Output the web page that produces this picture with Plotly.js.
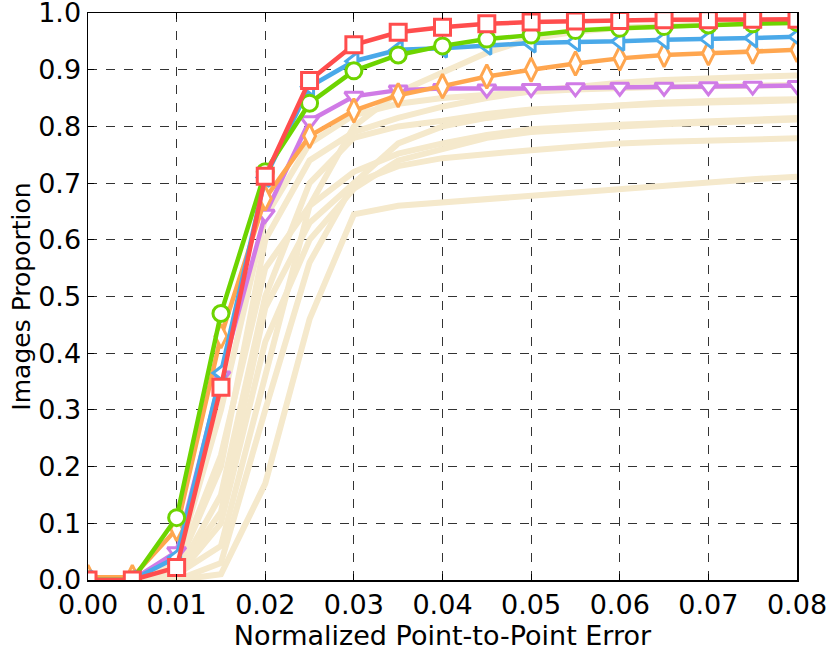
<!DOCTYPE html>
<html>
<head>
<meta charset="utf-8">
<script src="https://cdn.plot.ly/plotly-3.0.1.min.js"></script>
<style>html,body{margin:0;padding:0;background:#fff;}#chart{width:830px;height:651px;}</style>
</head>
<body>
<div id="chart"></div>
<script>
// x positions (normalized point-to-point error)
const errX = [0, 0.005, 0.01, 0.015, 0.02, 0.025, 0.03, 0.035, 0.04, 0.045, 0.05, 0.055, 0.06, 0.065, 0.07, 0.075, 0.08];

// background (other methods) curves
const bg1 = [0, 0, 0.01, 0.06, 0.36, 0.66, 0.80, 0.86, 0.895, 0.93, 0.955, 0.967, 0.974, 0.978, 0.980, 0.982, 0.983];
const bg2 = [0, 0, 0.02, 0.20, 0.60, 0.74, 0.79, 0.815, 0.835, 0.850, 0.862, 0.870, 0.877, 0.882, 0.885, 0.888, 0.890];
const bg3 = [0, 0, 0.03, 0.30, 0.64, 0.77, 0.82, 0.840, 0.850, 0.856, 0.861, 0.865, 0.868, 0.870, 0.871, 0.872, 0.873];
const bg4 = [0, 0, 0.01, 0.15, 0.50, 0.70, 0.78, 0.800, 0.810, 0.822, 0.830, 0.834, 0.838, 0.840, 0.842, 0.844, 0.846];
const bg5 = [0, 0, 0.02, 0.22, 0.55, 0.66, 0.72, 0.752, 0.770, 0.785, 0.795, 0.800, 0.803, 0.806, 0.809, 0.812, 0.815];
const bg6 = [0, 0, 0.005, 0.10, 0.42, 0.60, 0.69, 0.740, 0.760, 0.780, 0.790, 0.796, 0.800, 0.804, 0.807, 0.810, 0.812];
const bg7 = [0, 0, 0.01, 0.12, 0.48, 0.63, 0.70, 0.730, 0.744, 0.752, 0.758, 0.764, 0.770, 0.773, 0.775, 0.777, 0.779];
const bg8 = [0, 0, 0, 0.01, 0.17, 0.46, 0.645, 0.660, 0.666, 0.672, 0.678, 0.684, 0.690, 0.696, 0.702, 0.707, 0.711];
const bg9 = [0, 0, 0, 0.03, 0.30, 0.56, 0.70, 0.770, 0.800, 0.815, 0.825, 0.832, 0.838, 0.842, 0.845, 0.847, 0.848];

// highlighted methods
const purpleY = [0, 0, 0.05, 0.36, 0.645, 0.81, 0.853, 0.864, 0.867, 0.866, 0.867, 0.868, 0.869, 0.869, 0.870, 0.871, 0.872];
const orangeY = [0.005, 0.005, 0.09, 0.43, 0.673, 0.783, 0.828, 0.855, 0.871, 0.888, 0.900, 0.911, 0.920, 0.926, 0.929, 0.932, 0.935];
const blueY   = [0, 0, 0.04, 0.365, 0.71, 0.87, 0.915, 0.935, 0.938, 0.943, 0.947, 0.949, 0.950, 0.953, 0.954, 0.956, 0.958];
const greenY  = [0, 0, 0.11, 0.47, 0.72, 0.841, 0.898, 0.926, 0.942, 0.954, 0.961, 0.969, 0.973, 0.976, 0.979, 0.981, 0.983];
const redY    = [0, 0, 0.022, 0.34, 0.712, 0.881, 0.944, 0.966, 0.975, 0.981, 0.984, 0.986, 0.987, 0.988, 0.988, 0.989, 0.989];

const xTicks = [0, 0.01, 0.02, 0.03, 0.04, 0.05, 0.06, 0.07, 0.08];
const yTicks = [0, 0.1, 0.2, 0.3, 0.4, 0.5, 0.6, 0.7, 0.8, 0.9, 1.0];

const beige = '#f5e9cc';
const traces = [];
[bg1, bg2, bg3, bg4, bg5, bg6, bg7, bg8, bg9].forEach(function (ys) {
  traces.push({x: errX, y: ys, mode: 'lines', line: {color: beige, width: 6}, hoverinfo: 'skip'});
});

function main(ys, color, symbol, size) {
  return {
    x: errX, y: ys, mode: 'lines+markers', cliponaxis: true,
    line: {color: color, width: 4.5},
    marker: {symbol: symbol, size: size, color: '#ffffff', line: {color: color, width: 3}}
  };
}
traces.push(main(purpleY, '#d07be6', 'triangle-down', 16));
traces.push(main(orangeY, '#ffa64f', 'diamond-tall', 17));
traces.push(main(blueY, '#4aa9e9', 'triangle-left', 16));
traces.push(main(greenY, '#6dd400', 'circle', 16));
traces.push(main(redY, '#ff4d4d', 'square', 16));

const fontFam = 'DejaVu Sans, sans-serif';
const layout = {
  width: 830, height: 651,
  margin: {l: 88, r: 33, t: 13, b: 71},
  paper_bgcolor: '#ffffff', plot_bgcolor: '#ffffff',
  showlegend: false,
  font: {family: fontFam, color: '#000', size: 27},
  xaxis: {
    range: [0, 0.08], tickvals: xTicks, tickformat: '.2f', ticklabeloverflow: 'allow',
    showgrid: true, gridcolor: '#333', griddash: 'dash', gridwidth: 1,
    zeroline: false, showline: true, linecolor: '#000', linewidth: 1.5, mirror: 'ticks',
    ticks: 'inside', ticklen: 6, tickcolor: '#000',
    tickfont: {family: fontFam, size: 27, color: '#000'},
    title: {text: 'Normalized Point-to-Point Error', font: {family: fontFam, size: 27, color: '#000'}, standoff: 3}
  },
  yaxis: {
    range: [0, 1.00001], tickvals: yTicks, tickformat: '.1f', ticklabeloverflow: 'allow',
    showgrid: true, gridcolor: '#333', griddash: 'dash', gridwidth: 1,
    zeroline: false, showline: true, linecolor: '#000', linewidth: 1.5, mirror: 'ticks',
    ticks: 'inside', ticklen: 6, tickcolor: '#000',
    tickfont: {family: fontFam, size: 27, color: '#000'},
    title: {text: 'Images Proportion', font: {family: fontFam, size: 25, color: '#000'}, standoff: 0}
  }
};
Plotly.newPlot('chart', traces, layout, {displayModeBar: false, staticPlot: true});
</script>
</body>
</html>
